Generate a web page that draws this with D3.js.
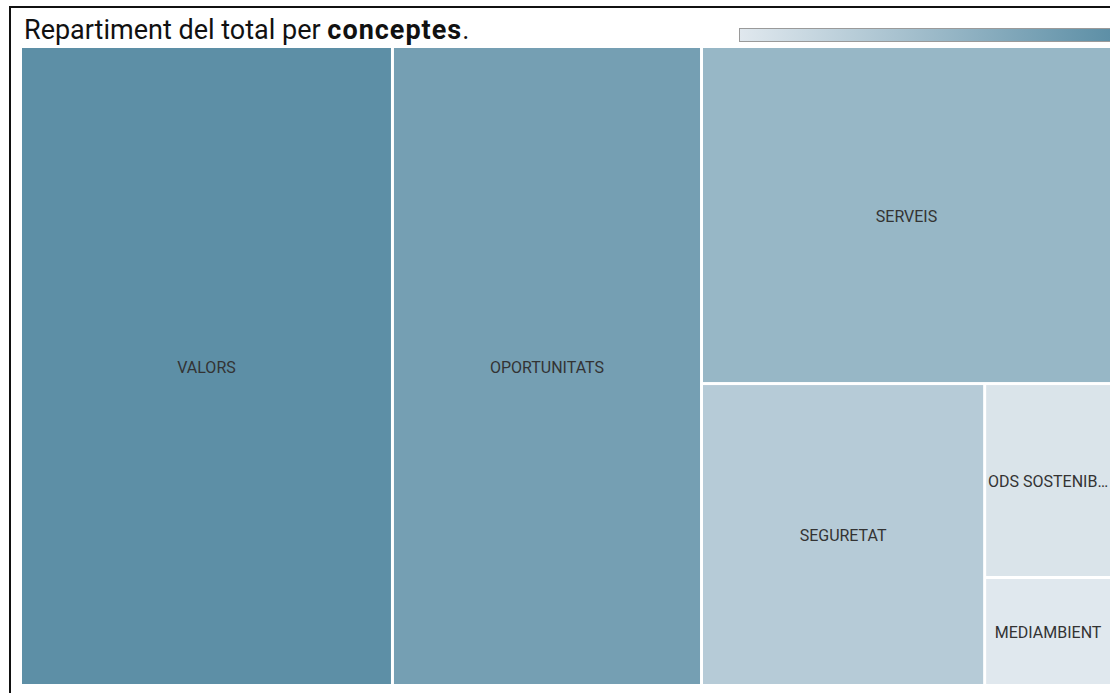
<!DOCTYPE html>
<html>
<head>
<meta charset="utf-8">
<script src="https://cdn.jsdelivr.net/npm/d3@7"></script>
<style>
  html, body { margin: 0; padding: 0; background: #fff; overflow: hidden; }
  svg { display: block; font-family: Roboto, "Noto Sans", sans-serif; }
</style>
</head>
<body>
<svg id="chart" width="1110" height="693"></svg>
<script>
// ---- data ----
const categories = ["VALORS", "OPORTUNITATS", "SERVEIS", "SEGURETAT", "ODS SOSTENIBILITAT", "MEDIAMBIENT"];
const values = [2377, 1975, 1382, 855, 246, 137];
const titleParts = ["Repartiment del total per ", "conceptes", "."];
const colorRange = ["#e0e8ee", "#5d8fa6"];

// ---- layout ----
const W = 1110, H = 693;
const svg = d3.select("#chart");

// outer frame (extends beyond the visible window on the right/bottom)
svg.append("rect")
  .attr("x", 10).attr("y", 7)
  .attr("width", 1124).attr("height", 700)
  .attr("fill", "none").attr("stroke", "#111").attr("stroke-width", 2);

// title
const title = svg.append("text")
  .attr("x", 24).attr("y", 39)
  .attr("font-size", 27).attr("fill", "#111");
title.append("tspan").text(titleParts[0]);
title.append("tspan").attr("font-weight", "bold").attr("letter-spacing", 1).text(titleParts[1]);
title.append("tspan").text(titleParts[2]);

// color scale
const color = d3.scaleLinear()
  .domain([d3.min(values), d3.max(values)])
  .range(colorRange)
  .interpolate(d3.interpolateRgb);

// legend gradient bar
const defs = svg.append("defs");
const grad = defs.append("linearGradient").attr("id", "legendGrad")
  .attr("x1", "0%").attr("x2", "100%").attr("y1", "0%").attr("y2", "0%");
grad.append("stop").attr("offset", "0%").attr("stop-color", colorRange[0]);
grad.append("stop").attr("offset", "100%").attr("stop-color", colorRange[1]);
svg.append("rect")
  .attr("x", 739.5).attr("y", 28.5)
  .attr("width", 372).attr("height", 13)
  .attr("fill", "url(#legendGrad)")
  .attr("stroke", "#9a9a9a").attr("stroke-width", 1);

// treemap
const x0 = 22, y0 = 48, x1 = 1110, y1 = 684;
const pad = 3;

// strip tiling: each node takes a strip along the longer side of the remaining area
function stripTile(parent, a0, b0, a1, b1) {
  let remaining = parent.value;
  for (const node of parent.children) {
    const dx = a1 - a0, dy = b1 - b0;
    const k = remaining ? node.value / remaining : 0;
    if (dx >= dy) {
      node.x0 = a0; node.x1 = a0 + dx * k; node.y0 = b0; node.y1 = b1;
      a0 = node.x1;
    } else {
      node.x0 = a0; node.x1 = a1; node.y0 = b0; node.y1 = b0 + dy * k;
      b0 = node.y1;
    }
    remaining -= node.value;
  }
}

const data = { name: "root", children: categories.map((c, i) => ({ name: c, value: values[i] })) };
const root = d3.hierarchy(data).sum(d => d.value || 0);
d3.treemap()
  .tile(stripTile)
  .size([x1 - x0, y1 - y0])
  .paddingInner(pad)
  .round(false)(root);

const g = svg.append("g").attr("transform", `translate(${x0},${y0})`);
const cells = g.selectAll("g.cell").data(root.leaves()).join("g").attr("class", "cell");

cells.append("rect")
  .attr("x", d => d.x0).attr("y", d => d.y0)
  .attr("width", d => d.x1 - d.x0).attr("height", d => d.y1 - d.y0)
  .attr("fill", d => color(d.data.value));

cells.append("text")
  .attr("x", d => (d.x0 + d.x1) / 2)
  .attr("y", d => (d.y0 + d.y1) / 2 + 1)
  .attr("text-anchor", "middle")
  .attr("dominant-baseline", "central")
  .attr("font-size", 16)
  .attr("fill", "#333")
  .text(d => d.data.name)
  .each(function(d) {
    const el = d3.select(this);
    const maxW = (d.x1 - d.x0) - 2;
    let txt = d.data.name;
    if (this.getComputedTextLength() > maxW) {
      while (txt.length > 1) {
        txt = txt.slice(0, -1);
        el.text(txt + "…");
        if (this.getComputedTextLength() <= maxW) break;
      }
    }
  });
</script>
</body>
</html>
